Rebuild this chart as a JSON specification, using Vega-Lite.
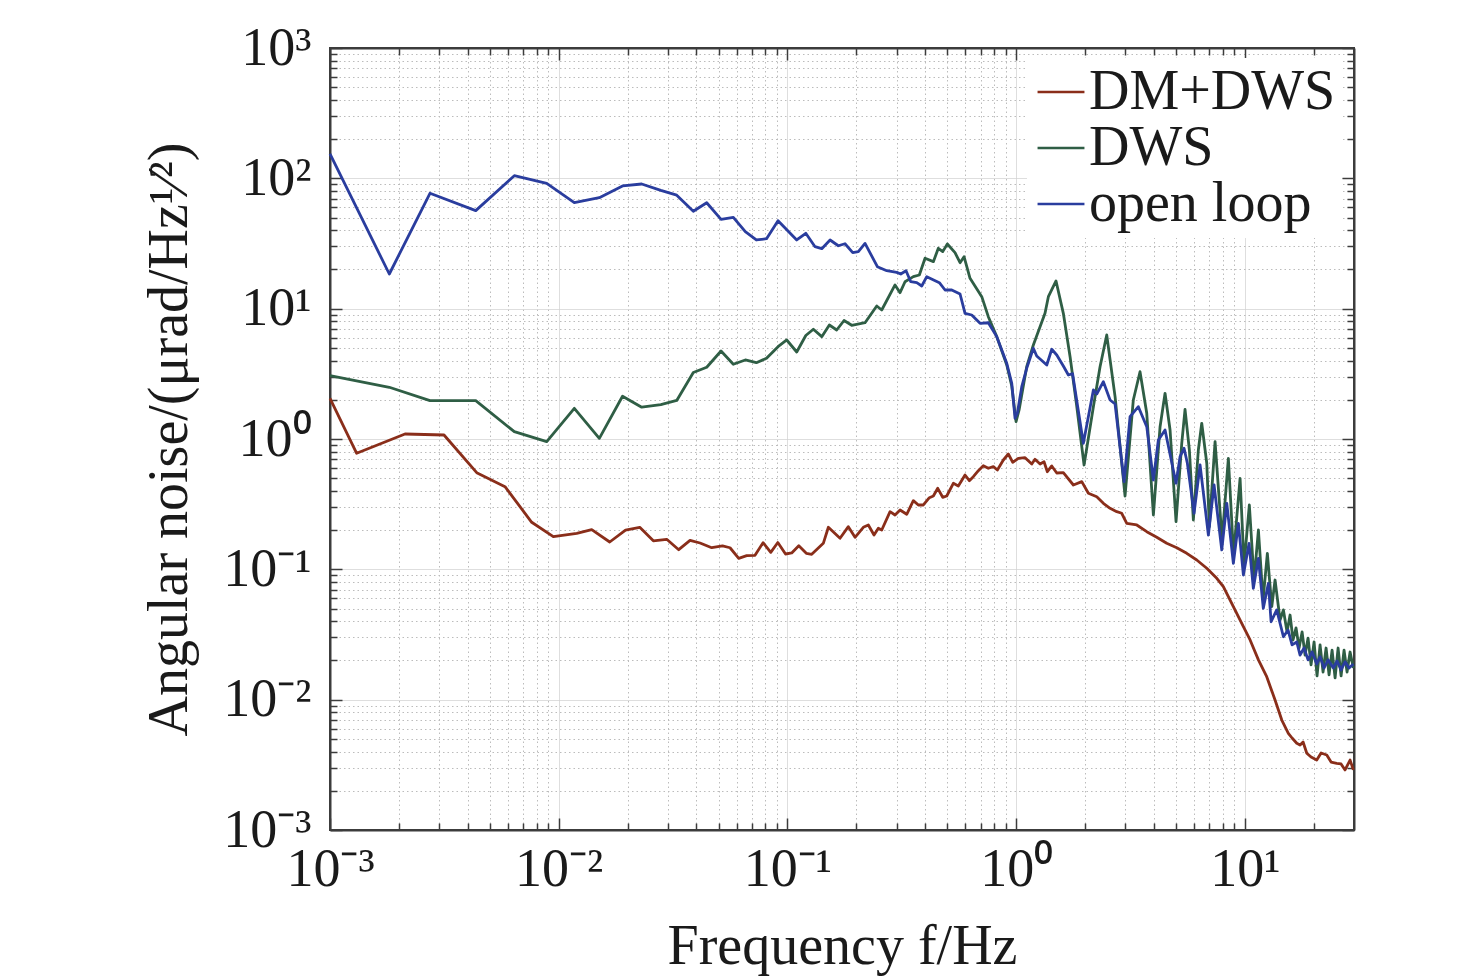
{
  "$schema": "https://vega.github.io/schema/vega-lite/v6.json",
  "width": 1024,
  "height": 782,
  "autosize": {"type": "none"},
  "padding": {"left": 330, "top": 48, "right": 122, "bottom": 149},
  "background": "white",
  "config": {
    "view": {"stroke": "#3c3c3c", "strokeWidth": 2},
    "font": "Liberation Serif",
    "axis": {
      "labelFont": "Liberation Serif",
      "labelFontSize": 54,
      "labelColor": "#1a1a1a",
      "labelOverlap": false,
      "labelFlush": false,
      "titleFont": "Liberation Serif",
      "titleFontSize": 56,
      "titleFontWeight": "normal",
      "titleColor": "#1a1a1a",
      "domainColor": "#3c3c3c",
      "domainWidth": 2,
      "tickColor": "#3c3c3c",
      "tickWidth": 1.5
    }
  },
  "data": {
    "values": [
      {"s": "DM+DWS", "f": 0.001, "v": 2.053},
      {"s": "DM+DWS", "f": 0.001308, "v": 0.7767},
      {"s": "DM+DWS", "f": 0.002128, "v": 1.092},
      {"s": "DM+DWS", "f": 0.003151, "v": 1.073},
      {"s": "DM+DWS", "f": 0.00438, "v": 0.5514},
      {"s": "DM+DWS", "f": 0.005824, "v": 0.4306},
      {"s": "DM+DWS", "f": 0.007619, "v": 0.2296},
      {"s": "DM+DWS", "f": 0.009471, "v": 0.178},
      {"s": "DM+DWS", "f": 0.01199, "v": 0.189},
      {"s": "DM+DWS", "f": 0.01394, "v": 0.2014},
      {"s": "DM+DWS", "f": 0.01671, "v": 0.1621},
      {"s": "DM+DWS", "f": 0.01959, "v": 0.2003},
      {"s": "DM+DWS", "f": 0.02261, "v": 0.2102},
      {"s": "DM+DWS", "f": 0.02592, "v": 0.1656},
      {"s": "DM+DWS", "f": 0.02966, "v": 0.17},
      {"s": "DM+DWS", "f": 0.03347, "v": 0.1415},
      {"s": "DM+DWS", "f": 0.03751, "v": 0.167},
      {"s": "DM+DWS", "f": 0.04148, "v": 0.1593},
      {"s": "DM+DWS", "f": 0.04667, "v": 0.1466},
      {"s": "DM+DWS", "f": 0.05203, "v": 0.1511},
      {"s": "DM+DWS", "f": 0.0561, "v": 0.1464},
      {"s": "DM+DWS", "f": 0.06124, "v": 0.1215},
      {"s": "DM+DWS", "f": 0.06637, "v": 0.1273},
      {"s": "DM+DWS", "f": 0.07215, "v": 0.1281},
      {"s": "DM+DWS", "f": 0.07824, "v": 0.1601},
      {"s": "DM+DWS", "f": 0.08453, "v": 0.1351},
      {"s": "DM+DWS", "f": 0.09078, "v": 0.1606},
      {"s": "DM+DWS", "f": 0.0981, "v": 0.1311},
      {"s": "DM+DWS", "f": 0.1044, "v": 0.1335},
      {"s": "DM+DWS", "f": 0.1121, "v": 0.1516},
      {"s": "DM+DWS", "f": 0.1209, "v": 0.1327},
      {"s": "DM+DWS", "f": 0.1277, "v": 0.1304},
      {"s": "DM+DWS", "f": 0.1435, "v": 0.1584},
      {"s": "DM+DWS", "f": 0.151, "v": 0.2102},
      {"s": "DM+DWS", "f": 0.1698, "v": 0.173},
      {"s": "DM+DWS", "f": 0.1846, "v": 0.2125},
      {"s": "DM+DWS", "f": 0.1975, "v": 0.1761},
      {"s": "DM+DWS", "f": 0.2147, "v": 0.2102},
      {"s": "DM+DWS", "f": 0.2258, "v": 0.2189},
      {"s": "DM+DWS", "f": 0.2391, "v": 0.1834},
      {"s": "DM+DWS", "f": 0.2497, "v": 0.2065},
      {"s": "DM+DWS", "f": 0.2584, "v": 0.2003},
      {"s": "DM+DWS", "f": 0.281, "v": 0.2768},
      {"s": "DM+DWS", "f": 0.2954, "v": 0.2612},
      {"s": "DM+DWS", "f": 0.3107, "v": 0.2853},
      {"s": "DM+DWS", "f": 0.3323, "v": 0.2644},
      {"s": "DM+DWS", "f": 0.3552, "v": 0.3363},
      {"s": "DM+DWS", "f": 0.3736, "v": 0.3117},
      {"s": "DM+DWS", "f": 0.3929, "v": 0.3117},
      {"s": "DM+DWS", "f": 0.4174, "v": 0.3546},
      {"s": "DM+DWS", "f": 0.4345, "v": 0.3654},
      {"s": "DM+DWS", "f": 0.4541, "v": 0.4184},
      {"s": "DM+DWS", "f": 0.4775, "v": 0.357},
      {"s": "DM+DWS", "f": 0.4971, "v": 0.3654},
      {"s": "DM+DWS", "f": 0.5313, "v": 0.4571},
      {"s": "DM+DWS", "f": 0.5587, "v": 0.4359},
      {"s": "DM+DWS", "f": 0.5977, "v": 0.5294},
      {"s": "DM+DWS", "f": 0.6242, "v": 0.4788},
      {"s": "DM+DWS", "f": 0.6498, "v": 0.5139},
      {"s": "DM+DWS", "f": 0.6835, "v": 0.5711},
      {"s": "DM+DWS", "f": 0.7185, "v": 0.6242},
      {"s": "DM+DWS", "f": 0.7556, "v": 0.5961},
      {"s": "DM+DWS", "f": 0.795, "v": 0.6132},
      {"s": "DM+DWS", "f": 0.8276, "v": 0.5783},
      {"s": "DM+DWS", "f": 0.879, "v": 0.6901},
      {"s": "DM+DWS", "f": 0.9245, "v": 0.7674},
      {"s": "DM+DWS", "f": 0.9663, "v": 0.6627},
      {"s": "DM+DWS", "f": 1.022, "v": 0.7112},
      {"s": "DM+DWS", "f": 1.094, "v": 0.7188},
      {"s": "DM+DWS", "f": 1.17, "v": 0.6431},
      {"s": "DM+DWS", "f": 1.209, "v": 0.6987},
      {"s": "DM+DWS", "f": 1.272, "v": 0.6431},
      {"s": "DM+DWS", "f": 1.324, "v": 0.6697},
      {"s": "DM+DWS", "f": 1.369, "v": 0.5612},
      {"s": "DM+DWS", "f": 1.431, "v": 0.6209},
      {"s": "DM+DWS", "f": 1.505, "v": 0.5485},
      {"s": "DM+DWS", "f": 1.608, "v": 0.5514},
      {"s": "DM+DWS", "f": 1.779, "v": 0.4437},
      {"s": "DM+DWS", "f": 1.936, "v": 0.4705},
      {"s": "DM+DWS", "f": 2.069, "v": 0.3833},
      {"s": "DM+DWS", "f": 2.251, "v": 0.3609},
      {"s": "DM+DWS", "f": 2.406, "v": 0.3211},
      {"s": "DM+DWS", "f": 2.574, "v": 0.2938},
      {"s": "DM+DWS", "f": 2.754, "v": 0.2768},
      {"s": "DM+DWS", "f": 2.895, "v": 0.2692},
      {"s": "DM+DWS", "f": 3.045, "v": 0.2255},
      {"s": "DM+DWS", "f": 3.368, "v": 0.2189},
      {"s": "DM+DWS", "f": 3.724, "v": 0.1944},
      {"s": "DM+DWS", "f": 4.118, "v": 0.1761},
      {"s": "DM+DWS", "f": 4.553, "v": 0.1584},
      {"s": "DM+DWS", "f": 5.037, "v": 0.1466},
      {"s": "DM+DWS", "f": 5.57, "v": 0.1327},
      {"s": "DM+DWS", "f": 6.16, "v": 0.118},
      {"s": "DM+DWS", "f": 6.814, "v": 0.1019},
      {"s": "DM+DWS", "f": 7.535, "v": 0.0854},
      {"s": "DM+DWS", "f": 8.052, "v": 0.0736},
      {"s": "DM+DWS", "f": 8.906, "v": 0.0517},
      {"s": "DM+DWS", "f": 9.851, "v": 0.0363},
      {"s": "DM+DWS", "f": 10.54, "v": 0.0287},
      {"s": "DM+DWS", "f": 11.46, "v": 0.0202},
      {"s": "DM+DWS", "f": 12.46, "v": 0.015},
      {"s": "DM+DWS", "f": 13.55, "v": 0.00994},
      {"s": "DM+DWS", "f": 14.5, "v": 0.00698},
      {"s": "DM+DWS", "f": 15.49, "v": 0.00552},
      {"s": "DM+DWS", "f": 16.08, "v": 0.00508},
      {"s": "DM+DWS", "f": 16.86, "v": 0.00463},
      {"s": "DM+DWS", "f": 17.43, "v": 0.00449},
      {"s": "DM+DWS", "f": 17.97, "v": 0.00473},
      {"s": "DM+DWS", "f": 18.65, "v": 0.00388},
      {"s": "DM+DWS", "f": 19.47, "v": 0.00363},
      {"s": "DM+DWS", "f": 20.62, "v": 0.00344},
      {"s": "DM+DWS", "f": 21.54, "v": 0.0039},
      {"s": "DM+DWS", "f": 22.8, "v": 0.00376},
      {"s": "DM+DWS", "f": 23.82, "v": 0.00332},
      {"s": "DM+DWS", "f": 25.22, "v": 0.00325},
      {"s": "DM+DWS", "f": 26.34, "v": 0.00321},
      {"s": "DM+DWS", "f": 27.42, "v": 0.00289},
      {"s": "DM+DWS", "f": 28.84, "v": 0.00344},
      {"s": "DM+DWS", "f": 29.81, "v": 0.00289},
      {"s": "DWS", "f": 0.001, "v": 3.06},
      {"s": "DWS", "f": 0.001817, "v": 2.493},
      {"s": "DWS", "f": 0.002736, "v": 1.968},
      {"s": "DWS", "f": 0.004337, "v": 1.968},
      {"s": "DWS", "f": 0.006395, "v": 1.138},
      {"s": "DWS", "f": 0.008861, "v": 0.9535},
      {"s": "DWS", "f": 0.0117, "v": 1.72},
      {"s": "DWS", "f": 0.01505, "v": 1.012},
      {"s": "DWS", "f": 0.01901, "v": 2.127},
      {"s": "DWS", "f": 0.02306, "v": 1.754},
      {"s": "DWS", "f": 0.02795, "v": 1.837},
      {"s": "DWS", "f": 0.03281, "v": 1.975},
      {"s": "DWS", "f": 0.03877, "v": 3.237},
      {"s": "DWS", "f": 0.04437, "v": 3.55},
      {"s": "DWS", "f": 0.05125, "v": 4.735},
      {"s": "DWS", "f": 0.058, "v": 3.743},
      {"s": "DWS", "f": 0.06543, "v": 4.039},
      {"s": "DWS", "f": 0.07311, "v": 3.85},
      {"s": "DWS", "f": 0.08102, "v": 4.163},
      {"s": "DWS", "f": 0.09097, "v": 5.109},
      {"s": "DWS", "f": 0.0993, "v": 5.751},
      {"s": "DWS", "f": 0.1098, "v": 4.652},
      {"s": "DWS", "f": 0.1203, "v": 6.225},
      {"s": "DWS", "f": 0.1298, "v": 6.948},
      {"s": "DWS", "f": 0.1413, "v": 6.1},
      {"s": "DWS", "f": 0.1525, "v": 7.494},
      {"s": "DWS", "f": 0.1642, "v": 6.862},
      {"s": "DWS", "f": 0.1768, "v": 8.115},
      {"s": "DWS", "f": 0.191, "v": 7.454},
      {"s": "DWS", "f": 0.2184, "v": 7.8},
      {"s": "DWS", "f": 0.2457, "v": 10.48},
      {"s": "DWS", "f": 0.2584, "v": 9.77},
      {"s": "DWS", "f": 0.2954, "v": 15.2},
      {"s": "DWS", "f": 0.3107, "v": 13.26},
      {"s": "DWS", "f": 0.3267, "v": 16.1},
      {"s": "DWS", "f": 0.3552, "v": 17.6},
      {"s": "DWS", "f": 0.3773, "v": 18.13},
      {"s": "DWS", "f": 0.3996, "v": 24.35},
      {"s": "DWS", "f": 0.4345, "v": 22.94},
      {"s": "DWS", "f": 0.4568, "v": 29.06},
      {"s": "DWS", "f": 0.4775, "v": 27.4},
      {"s": "DWS", "f": 0.5002, "v": 31.35},
      {"s": "DWS", "f": 0.5404, "v": 26.9},
      {"s": "DWS", "f": 0.5685, "v": 22.53},
      {"s": "DWS", "f": 0.5918, "v": 25.05},
      {"s": "DWS", "f": 0.6286, "v": 17.11},
      {"s": "DWS", "f": 0.7073, "v": 12.36},
      {"s": "DWS", "f": 0.7556, "v": 8.68},
      {"s": "DWS", "f": 0.8226, "v": 6.1},
      {"s": "DWS", "f": 0.9097, "v": 3.698},
      {"s": "DWS", "f": 0.9566, "v": 2.551},
      {"s": "DWS", "f": 0.999, "v": 1.358},
      {"s": "DWS", "f": 1.03, "v": 1.67},
      {"s": "DWS", "f": 1.112, "v": 3.587},
      {"s": "DWS", "f": 1.189, "v": 5.264},
      {"s": "DWS", "f": 1.337, "v": 9.21},
      {"s": "DWS", "f": 1.383, "v": 12.36},
      {"s": "DWS", "f": 1.494, "v": 16.31},
      {"s": "DWS", "f": 1.608, "v": 9.21},
      {"s": "DWS", "f": 1.721, "v": 4.28},
      {"s": "DWS", "f": 1.841, "v": 1.77},
      {"s": "DWS", "f": 1.981, "v": 0.632},
      {"s": "DWS", "f": 2.176, "v": 1.77},
      {"s": "DWS", "f": 2.327, "v": 3.587},
      {"s": "DWS", "f": 2.489, "v": 6.281},
      {"s": "DWS", "f": 2.707, "v": 2.112},
      {"s": "DWS", "f": 2.993, "v": 0.3654},
      {"s": "DWS", "f": 3.253, "v": 1.992},
      {"s": "DWS", "f": 3.48, "v": 3.283},
      {"s": "DWS", "f": 3.724, "v": 1.575},
      {"s": "DWS", "f": 3.981, "v": 0.2612},
      {"s": "DWS", "f": 4.258, "v": 1.243},
      {"s": "DWS", "f": 4.477, "v": 2.242},
      {"s": "DWS", "f": 4.709, "v": 1.172},
      {"s": "DWS", "f": 5.001, "v": 0.232},
      {"s": "DWS", "f": 5.297, "v": 0.927},
      {"s": "DWS", "f": 5.475, "v": 1.69},
      {"s": "DWS", "f": 5.719, "v": 0.8235},
      {"s": "DWS", "f": 5.953, "v": 0.2391},
      {"s": "DWS", "f": 6.26, "v": 0.8235},
      {"s": "DWS", "f": 6.478, "v": 1.32},
      {"s": "DWS", "f": 6.814, "v": 0.651},
      {"s": "DWS", "f": 6.994, "v": 0.2125},
      {"s": "DWS", "f": 7.408, "v": 0.9535},
      {"s": "DWS", "f": 7.949, "v": 0.168},
      {"s": "DWS", "f": 8.469, "v": 0.7112},
      {"s": "DWS", "f": 8.924, "v": 0.1288},
      {"s": "DWS", "f": 9.528, "v": 0.4994},
      {"s": "DWS", "f": 9.92, "v": 0.108},
      {"s": "DWS", "f": 10.46, "v": 0.3117},
      {"s": "DWS", "f": 10.97, "v": 0.0828},
      {"s": "DWS", "f": 11.46, "v": 0.2003},
      {"s": "DWS", "f": 12.01, "v": 0.0582},
      {"s": "DWS", "f": 12.54, "v": 0.1327},
      {"s": "DWS", "f": 13.11, "v": 0.0517},
      {"s": "DWS", "f": 13.55, "v": 0.0828},
      {"s": "DWS", "f": 14.25, "v": 0.0409},
      {"s": "DWS", "f": 14.74, "v": 0.0488},
      {"s": "DWS", "f": 15.29, "v": 0.0331},
      {"s": "DWS", "f": 15.76, "v": 0.0446},
      {"s": "DWS", "f": 16.24, "v": 0.0287},
      {"s": "DWS", "f": 16.74, "v": 0.0355},
      {"s": "DWS", "f": 17.26, "v": 0.0249},
      {"s": "DWS", "f": 17.79, "v": 0.0331},
      {"s": "DWS", "f": 18.33, "v": 0.022},
      {"s": "DWS", "f": 18.89, "v": 0.0297},
      {"s": "DWS", "f": 19.47, "v": 0.0185},
      {"s": "DWS", "f": 20.07, "v": 0.0277},
      {"s": "DWS", "f": 20.68, "v": 0.0152},
      {"s": "DWS", "f": 21.32, "v": 0.0263},
      {"s": "DWS", "f": 21.97, "v": 0.0163},
      {"s": "DWS", "f": 22.65, "v": 0.0249},
      {"s": "DWS", "f": 23.34, "v": 0.0155},
      {"s": "DWS", "f": 24.06, "v": 0.024},
      {"s": "DWS", "f": 24.8, "v": 0.0147},
      {"s": "DWS", "f": 25.56, "v": 0.0249},
      {"s": "DWS", "f": 26.34, "v": 0.0152},
      {"s": "DWS", "f": 27.14, "v": 0.024},
      {"s": "DWS", "f": 27.98, "v": 0.0163},
      {"s": "DWS", "f": 28.84, "v": 0.0232},
      {"s": "DWS", "f": 29.81, "v": 0.0175},
      {"s": "open loop", "f": 0.001, "v": 153.8},
      {"s": "open loop", "f": 0.001817, "v": 18.45},
      {"s": "open loop", "f": 0.002736, "v": 76.8},
      {"s": "open loop", "f": 0.004337, "v": 56.5},
      {"s": "open loop", "f": 0.006395, "v": 104.8},
      {"s": "open loop", "f": 0.008861, "v": 91.6},
      {"s": "open loop", "f": 0.0117, "v": 65},
      {"s": "open loop", "f": 0.01505, "v": 71},
      {"s": "open loop", "f": 0.01901, "v": 87.4},
      {"s": "open loop", "f": 0.02306, "v": 90.5},
      {"s": "open loop", "f": 0.02795, "v": 80.9},
      {"s": "open loop", "f": 0.03281, "v": 74.3},
      {"s": "open loop", "f": 0.03877, "v": 55.9},
      {"s": "open loop", "f": 0.04437, "v": 65},
      {"s": "open loop", "f": 0.05125, "v": 48.5},
      {"s": "open loop", "f": 0.058, "v": 50.2},
      {"s": "open loop", "f": 0.06543, "v": 38.96},
      {"s": "open loop", "f": 0.07311, "v": 33.65},
      {"s": "open loop", "f": 0.08102, "v": 34.4},
      {"s": "open loop", "f": 0.09097, "v": 47.3},
      {"s": "open loop", "f": 0.1098, "v": 33.65},
      {"s": "open loop", "f": 0.1203, "v": 37.9},
      {"s": "open loop", "f": 0.132, "v": 29.9},
      {"s": "open loop", "f": 0.1413, "v": 28.85},
      {"s": "open loop", "f": 0.1536, "v": 33.65},
      {"s": "open loop", "f": 0.1669, "v": 30.4},
      {"s": "open loop", "f": 0.1785, "v": 31.5},
      {"s": "open loop", "f": 0.193, "v": 26.9},
      {"s": "open loop", "f": 0.2042, "v": 27.4},
      {"s": "open loop", "f": 0.2184, "v": 31.7},
      {"s": "open loop", "f": 0.2473, "v": 21},
      {"s": "open loop", "f": 0.2718, "v": 19.56},
      {"s": "open loop", "f": 0.3005, "v": 19},
      {"s": "open loop", "f": 0.3129, "v": 18.45},
      {"s": "open loop", "f": 0.33, "v": 19.56},
      {"s": "open loop", "f": 0.346, "v": 16.1},
      {"s": "open loop", "f": 0.3677, "v": 15.83},
      {"s": "open loop", "f": 0.3866, "v": 14.93},
      {"s": "open loop", "f": 0.4066, "v": 17.6},
      {"s": "open loop", "f": 0.4616, "v": 15.83},
      {"s": "open loop", "f": 0.4888, "v": 13.91},
      {"s": "open loop", "f": 0.5229, "v": 13.91},
      {"s": "open loop", "f": 0.5685, "v": 12.96},
      {"s": "open loop", "f": 0.5977, "v": 9.21},
      {"s": "open loop", "f": 0.6394, "v": 8.94},
      {"s": "open loop", "f": 0.6953, "v": 7.72},
      {"s": "open loop", "f": 0.7556, "v": 7.8},
      {"s": "open loop", "f": 0.8226, "v": 6.1},
      {"s": "open loop", "f": 0.9097, "v": 3.81},
      {"s": "open loop", "f": 0.9566, "v": 2.676},
      {"s": "open loop", "f": 0.989, "v": 1.442},
      {"s": "open loop", "f": 1.012, "v": 1.575},
      {"s": "open loop", "f": 1.058, "v": 2.52},
      {"s": "open loop", "f": 1.112, "v": 3.487},
      {"s": "open loop", "f": 1.189, "v": 4.966},
      {"s": "open loop", "f": 1.23, "v": 4.335},
      {"s": "open loop", "f": 1.361, "v": 3.698},
      {"s": "open loop", "f": 1.431, "v": 4.88},
      {"s": "open loop", "f": 1.505, "v": 4.412},
      {"s": "open loop", "f": 1.608, "v": 3.633},
      {"s": "open loop", "f": 1.692, "v": 3.098},
      {"s": "open loop", "f": 1.765, "v": 3.171},
      {"s": "open loop", "f": 1.967, "v": 0.927},
      {"s": "open loop", "f": 2.176, "v": 2.377},
      {"s": "open loop", "f": 2.251, "v": 2.215},
      {"s": "open loop", "f": 2.406, "v": 2.753},
      {"s": "open loop", "f": 2.574, "v": 1.992},
      {"s": "open loop", "f": 2.707, "v": 1.856},
      {"s": "open loop", "f": 2.963, "v": 0.4705},
      {"s": "open loop", "f": 3.148, "v": 1.483},
      {"s": "open loop", "f": 3.422, "v": 1.77},
      {"s": "open loop", "f": 3.724, "v": 1.243},
      {"s": "open loop", "f": 3.981, "v": 0.4849},
      {"s": "open loop", "f": 4.186, "v": 0.9826},
      {"s": "open loop", "f": 4.477, "v": 1.172},
      {"s": "open loop", "f": 5.001, "v": 0.4571},
      {"s": "open loop", "f": 5.207, "v": 0.7316},
      {"s": "open loop", "f": 5.421, "v": 0.8487},
      {"s": "open loop", "f": 5.605, "v": 0.651},
      {"s": "open loop", "f": 5.995, "v": 0.2692},
      {"s": "open loop", "f": 6.369, "v": 0.632},
      {"s": "open loop", "f": 6.925, "v": 0.1834},
      {"s": "open loop", "f": 7.333, "v": 0.4437},
      {"s": "open loop", "f": 7.925, "v": 0.1408},
      {"s": "open loop", "f": 8.335, "v": 0.3211},
      {"s": "open loop", "f": 8.906, "v": 0.1113},
      {"s": "open loop", "f": 9.368, "v": 0.2255},
      {"s": "open loop", "f": 9.851, "v": 0.0905},
      {"s": "open loop", "f": 10.43, "v": 0.1584},
      {"s": "open loop", "f": 10.89, "v": 0.0715},
      {"s": "open loop", "f": 11.46, "v": 0.1215},
      {"s": "open loop", "f": 12.04, "v": 0.0502},
      {"s": "open loop", "f": 12.67, "v": 0.0781},
      {"s": "open loop", "f": 13.02, "v": 0.0396},
      {"s": "open loop", "f": 13.78, "v": 0.0488},
      {"s": "open loop", "f": 14.74, "v": 0.0304},
      {"s": "open loop", "f": 15.45, "v": 0.0342},
      {"s": "open loop", "f": 16.08, "v": 0.0263},
      {"s": "open loop", "f": 16.86, "v": 0.0277},
      {"s": "open loop", "f": 17.43, "v": 0.022},
      {"s": "open loop", "f": 18.15, "v": 0.0249},
      {"s": "open loop", "f": 18.89, "v": 0.0202},
      {"s": "open loop", "f": 19.67, "v": 0.0232},
      {"s": "open loop", "f": 20.62, "v": 0.0188},
      {"s": "open loop", "f": 21.32, "v": 0.0213},
      {"s": "open loop", "f": 22.2, "v": 0.0175},
      {"s": "open loop", "f": 23.1, "v": 0.0202},
      {"s": "open loop", "f": 24.38, "v": 0.0175},
      {"s": "open loop", "f": 25.3, "v": 0.0198},
      {"s": "open loop", "f": 26.34, "v": 0.0169},
      {"s": "open loop", "f": 27.42, "v": 0.0195},
      {"s": "open loop", "f": 28.54, "v": 0.0175},
      {"s": "open loop", "f": 29.81, "v": 0.0188}
    ]
  },
  "layer": [
    {
      "mark": {"type": "line", "strokeWidth": 2.8, "strokeJoin": "round"},
      "encoding": {
        "x": {
          "field": "f",
          "type": "quantitative",
          "scale": {"type": "log", "domain": [0.001, 30], "nice": false},
          "axis": {
            "orient": "bottom",
            "values": [0.001, 0.002, 0.003, 0.004, 0.005, 0.006, 0.007, 0.008, 0.009, 0.01, 0.02, 0.03, 0.04, 0.05, 0.06, 0.07, 0.08, 0.09, 0.1, 0.2, 0.3, 0.4, 0.5, 0.6, 0.7, 0.8, 0.9, 1, 2, 3, 4, 5, 6, 7, 8, 9, 10, 20],
            "labelExpr": "datum.value === 0.001 ? '10⁻³' : datum.value === 0.01 ? '10⁻²' : datum.value === 0.1 ? '10⁻¹' : datum.value === 1 ? '10⁰' : datum.value === 10 ? '10¹' : ''",
            "labelPadding": 24,
            "grid": true,
            "gridColor": {"condition": {"test": "indexof([0.001,0.01,0.1,1,10], datum.value) >= 0", "value": "#d2d2d2"}, "value": "#bcbcbc"},
            "gridDash": {"condition": {"test": "indexof([0.001,0.01,0.1,1,10], datum.value) >= 0", "value": [1, 0]}, "value": [1.5, 3]},
            "gridOpacity": {"condition": {"test": "datum.value === 0.001", "value": 0}, "value": 1},
            "tickSize": {"condition": {"test": "indexof([0.001,0.01,0.1,1,10], datum.value) >= 0", "value": -12}, "value": -7},
            "title": "Frequency f/Hz",
            "titlePadding": 18
          }
        },
        "y": {
          "field": "v",
          "type": "quantitative",
          "scale": {"type": "log", "domain": [0.001, 1000], "nice": false},
          "axis": {
            "orient": "left",
            "values": [0.001, 0.002, 0.003, 0.004, 0.005, 0.006, 0.007, 0.008, 0.009, 0.01, 0.02, 0.03, 0.04, 0.05, 0.06, 0.07, 0.08, 0.09, 0.1, 0.2, 0.3, 0.4, 0.5, 0.6, 0.7, 0.8, 0.9, 1, 2, 3, 4, 5, 6, 7, 8, 9, 10, 20, 30, 40, 50, 60, 70, 80, 90, 100, 200, 300, 400, 500, 600, 700, 800, 900, 1000],
            "labelExpr": "datum.value === 0.001 ? '10⁻³' : datum.value === 0.01 ? '10⁻²' : datum.value === 0.1 ? '10⁻¹' : datum.value === 1 ? '10⁰' : datum.value === 10 ? '10¹' : datum.value === 100 ? '10²' : datum.value === 1000 ? '10³' : ''",
            "labelPadding": 31,
            "grid": true,
            "gridColor": {"condition": {"test": "indexof([0.001,0.01,0.1,1,10,100,1000], datum.value) >= 0", "value": "#d2d2d2"}, "value": "#bcbcbc"},
            "gridDash": {"condition": {"test": "indexof([0.001,0.01,0.1,1,10,100,1000], datum.value) >= 0", "value": [1, 0]}, "value": [1.5, 3]},
            "gridOpacity": {"condition": {"test": "datum.value === 0.001 || datum.value === 1000", "value": 0}, "value": 1},
            "tickSize": {"condition": {"test": "indexof([0.001,0.01,0.1,1,10,100,1000], datum.value) >= 0", "value": -12}, "value": -7},
            "title": "Angular noise/(μrad/Hz¹⁄²)",
            "titlePadding": 24
          }
        },
        "color": {
          "field": "s",
          "type": "nominal",
          "scale": {"domain": ["DM+DWS", "DWS", "open loop"], "range": ["#8a2e1a", "#2f5e45", "#2a3d9e"]},
          "legend": {
            "orient": "none",
            "legendX": 697,
            "legendY": 10,
            "title": null,
            "symbolType": "stroke",
            "symbolSize": 2200,
            "symbolStrokeWidth": 2.5,
            "labelFont": "Liberation Serif",
            "labelFontSize": 56,
            "labelColor": "#1a1a1a",
            "labelLimit": 0,
            "labelOffset": 0,
            "rowPadding": {"expr": "-9"},
            "padding": 6,
            "fillColor": "white"
          }
        }
      }
    },
    {
      "mark": {"type": "line", "strokeOpacity": 0},
      "encoding": {
        "x": {
          "field": "f",
          "type": "quantitative",
          "axis": {
            "orient": "top",
            "values": [0.001, 0.002, 0.003, 0.004, 0.005, 0.006, 0.007, 0.008, 0.009, 0.01, 0.02, 0.03, 0.04, 0.05, 0.06, 0.07, 0.08, 0.09, 0.1, 0.2, 0.3, 0.4, 0.5, 0.6, 0.7, 0.8, 0.9, 1, 2, 3, 4, 5, 6, 7, 8, 9, 10, 20],
            "labels": false,
            "grid": false,
            "tickSize": {"condition": {"test": "indexof([0.001,0.01,0.1,1,10], datum.value) >= 0", "value": -12}, "value": -7},
            "title": null
          }
        },
        "y": {
          "field": "v",
          "type": "quantitative",
          "axis": {
            "orient": "right",
            "values": [0.001, 0.002, 0.003, 0.004, 0.005, 0.006, 0.007, 0.008, 0.009, 0.01, 0.02, 0.03, 0.04, 0.05, 0.06, 0.07, 0.08, 0.09, 0.1, 0.2, 0.3, 0.4, 0.5, 0.6, 0.7, 0.8, 0.9, 1, 2, 3, 4, 5, 6, 7, 8, 9, 10, 20, 30, 40, 50, 60, 70, 80, 90, 100, 200, 300, 400, 500, 600, 700, 800, 900, 1000],
            "labels": false,
            "grid": false,
            "tickSize": {"condition": {"test": "indexof([0.001,0.01,0.1,1,10,100,1000], datum.value) >= 0", "value": -12}, "value": -7},
            "title": null
          }
        }
      }
    }
  ],
  "resolve": {"axis": {"x": "independent", "y": "independent"}}
}
